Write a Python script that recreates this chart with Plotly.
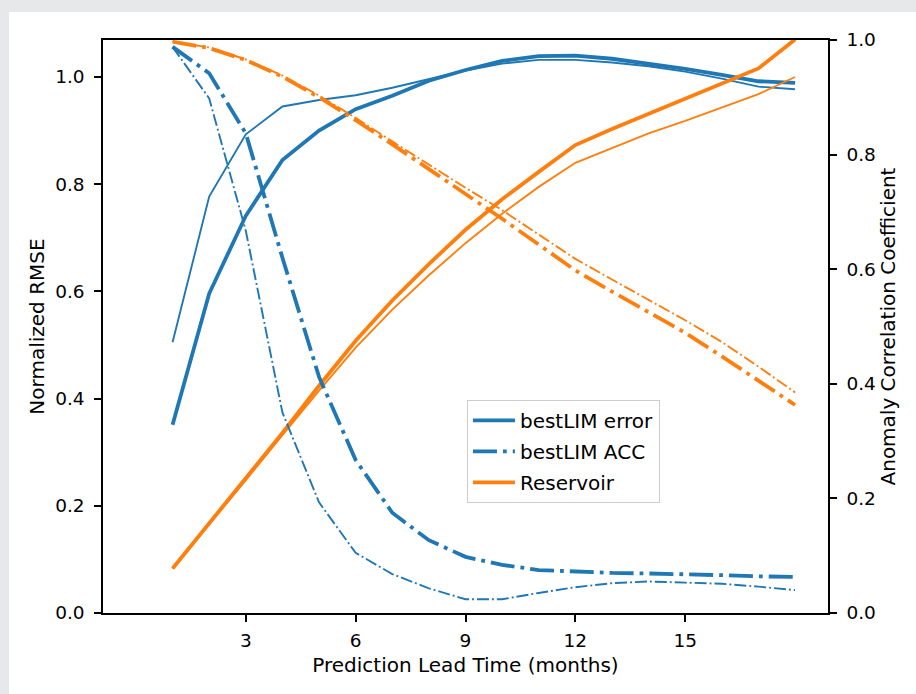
import plotly.graph_objects as go

# Forecast lead time (months)
lead = list(range(1, 19))

# Normalized RMSE (left axis)
lim_err = [0.351, 0.596, 0.741, 0.845, 0.900, 0.940, 0.965, 0.993, 1.013, 1.030,
           1.039, 1.040, 1.034, 1.025, 1.015, 1.004, 0.992, 0.989]
lim_err_alt = [0.505, 0.777, 0.893, 0.945, 0.957, 0.966, 0.980, 0.996, 1.012, 1.025,
               1.032, 1.032, 1.027, 1.020, 1.010, 0.997, 0.982, 0.977]
res_err = [0.083, 0.167, 0.250, 0.336, 0.424, 0.508, 0.583, 0.651, 0.715, 0.772,
           0.823, 0.873, 0.903, 0.931, 0.959, 0.988, 1.016, 1.070]
res_err_alt = [0.083, 0.165, 0.248, 0.332, 0.415, 0.495, 0.566, 0.630, 0.690, 0.745,
               0.795, 0.840, 0.868, 0.895, 0.918, 0.943, 0.968, 1.000]

# Anomaly correlation coefficient (right axis)
lim_acc = [0.988, 0.942, 0.837, 0.620, 0.412, 0.267, 0.175, 0.127, 0.098, 0.084,
           0.075, 0.072, 0.070, 0.069, 0.068, 0.066, 0.064, 0.063]
lim_acc_alt = [0.988, 0.898, 0.667, 0.350, 0.193, 0.105, 0.068, 0.043, 0.024, 0.024,
               0.035, 0.045, 0.052, 0.055, 0.053, 0.051, 0.046, 0.040]
res_acc = [0.997, 0.986, 0.965, 0.936, 0.900, 0.860, 0.818, 0.775, 0.733, 0.688,
           0.643, 0.598, 0.561, 0.525, 0.489, 0.448, 0.406, 0.363]
res_acc_alt = [0.997, 0.987, 0.966, 0.938, 0.903, 0.864, 0.823, 0.782, 0.742, 0.703,
               0.660, 0.618, 0.582, 0.547, 0.511, 0.473, 0.430, 0.385]

x_ticks = [3, 6, 9, 12, 15]
y_left_ticks = [0.0, 0.2, 0.4, 0.6, 0.8, 1.0]
y_right_ticks = [0.0, 0.2, 0.4, 0.6, 0.8, 1.0]

BLUE = "#1f77b4"
ORANGE = "#ff7f0e"
THICK = 3.8
THIN = 1.9
DASHDOT_THICK = "24px,6px,3.8px,6px"
DASHDOT_THIN = "12px,3px,1.9px,3px"
FONT = "DejaVu Sans"
TICK_FS = 18.5
LABEL_FS = 20

fig = go.Figure()


def add_line(y, color, width, dash, axis, name=None):
    fig.add_trace(go.Scatter(
        x=lead, y=y, mode="lines", yaxis=axis,
        line=dict(color=color, width=width, dash=dash),
        name=name if name else "", showlegend=name is not None,
        legendgroup=name if name else None, hoverinfo="skip",
    ))


add_line(lim_err, BLUE, THICK, "solid", "y", "bestLIM error")
add_line(lim_err_alt, BLUE, THIN, "solid", "y")
add_line(lim_acc, BLUE, THICK, DASHDOT_THICK, "y2", "bestLIM ACC")
add_line(lim_acc_alt, BLUE, THIN, DASHDOT_THIN, "y2")
add_line(res_err, ORANGE, THICK, "solid", "y", "Reservoir")
add_line(res_err_alt, ORANGE, THIN, "solid", "y")
add_line(res_acc, ORANGE, THICK, DASHDOT_THICK, "y2")
add_line(res_acc_alt, ORANGE, THIN, DASHDOT_THIN, "y2")

axis_common = dict(
    showline=True, linecolor="black", linewidth=1.5,
    ticks="outside", ticklen=7, tickwidth=1.5, tickcolor="black",
    showgrid=False, zeroline=False,
    tickfont=dict(family=FONT, size=TICK_FS, color="black"),
    automargin=False,
)

fig.update_layout(
    width=916, height=694,
    margin=dict(l=103, r=88, t=40, b=81),
    paper_bgcolor="#e7e8ea",
    plot_bgcolor="white",
    font=dict(family=FONT, size=LABEL_FS, color="black"),
    xaxis=dict(
        range=[-0.9, 18.9], tickvals=x_ticks, mirror=True,
        title=dict(text="Prediction Lead Time (months)",
                   font=dict(family=FONT, size=LABEL_FS), standoff=8),
        ticklabelstandoff=3,
        **axis_common,
    ),
    yaxis=dict(
        range=[0, 1.069], tickvals=y_left_ticks, tickformat=".1f",
        title=dict(text="Normalized RMSE", font=dict(family=FONT, size=LABEL_FS), standoff=5),
        ticklabelstandoff=6,
        **axis_common,
    ),
    yaxis2=dict(
        range=[0, 1.0], tickvals=y_right_ticks, tickformat=".1f",
        overlaying="y", side="right",
        title=dict(text="Anomaly Correlation Coefficient",
                   font=dict(family=FONT, size=LABEL_FS), standoff=2),
        ticklabelstandoff=6,
        **axis_common,
    ),
    legend=dict(
        x=0.502, y=0.372, xanchor="left", yanchor="top",
        bgcolor="rgba(255,255,255,0.8)", bordercolor="#cccccc", borderwidth=1,
        font=dict(family=FONT, size=LABEL_FS, color="black"),
        itemwidth=42, tracegroupgap=2,
    ),
    shapes=[dict(
        type="rect", xref="paper", yref="paper", layer="below",
        x0=-0.1297, x1=1.2, y0=-0.2, y1=1.0489,
        fillcolor="white", line=dict(width=0),
    )],
)

fig.write_html("out.html")
